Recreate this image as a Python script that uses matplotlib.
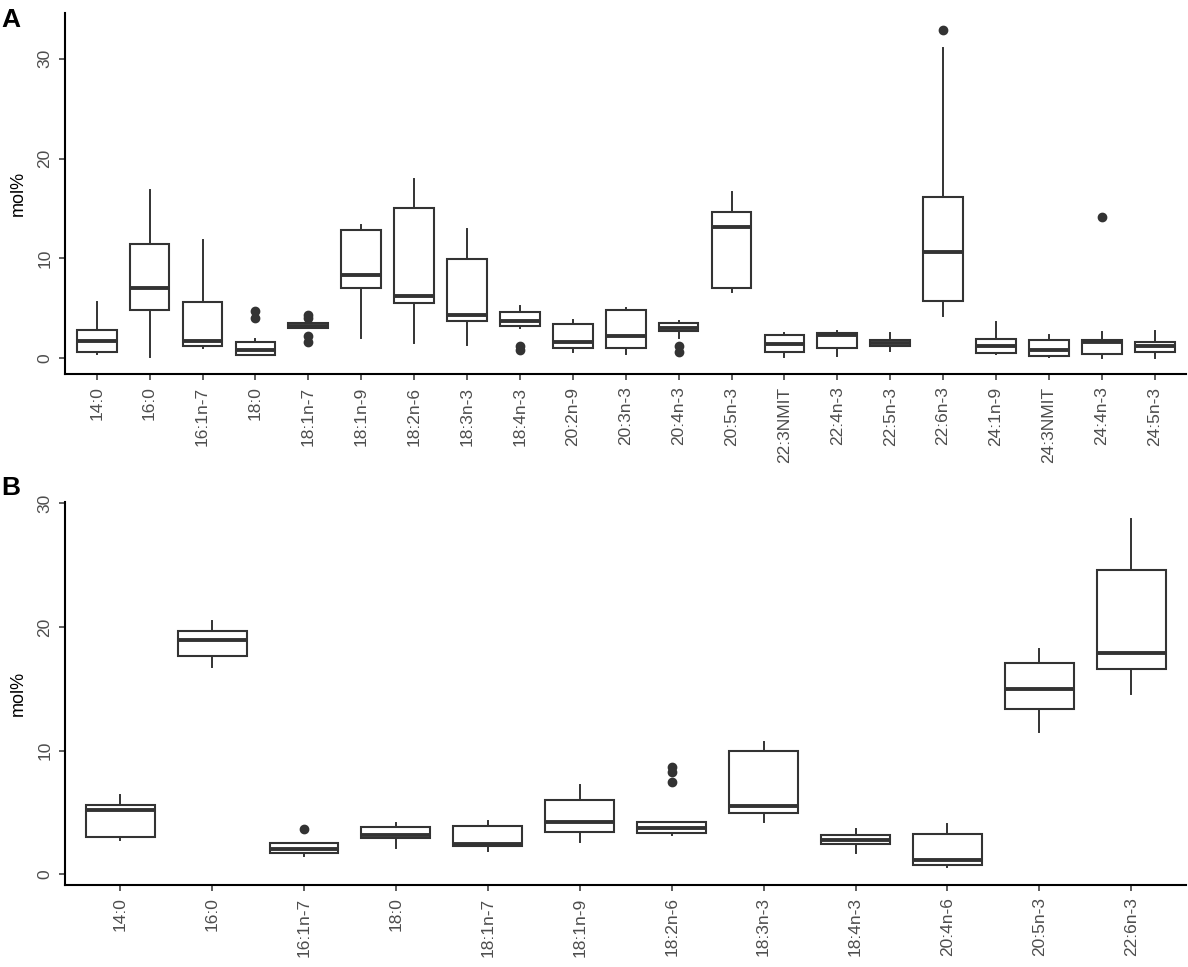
import matplotlib
matplotlib.use("Agg")
import matplotlib.pyplot as plt

plt.rcParams['font.family'] = ['Liberation Sans', 'DejaVu Sans']

# Panel A: fatty acid composition, box statistics
cats_a = ["14:0", "16:0", "16:1n-7", "18:0", "18:1n-7", "18:1n-9", "18:2n-6",
          "18:3n-3", "18:4n-3", "20:2n-9", "20:3n-3", "20:4n-3", "20:5n-3",
          "22:3NMIT", "22:4n-3", "22:5n-3", "22:6n-3", "24:1n-9", "24:3NMIT",
          "24:4n-3", "24:5n-3"]
whislo_a = [0.43, 0.07, 1.0, 0.27, 3.0, 2.0, 1.5, 1.33, 3.0, 0.57, 0.43, 2.0, 6.6,
            0.1, 0.23, 0.73, 4.17, 0.4, 0.07, 0.05, 0.05]
q1_a = [0.57, 4.83, 1.17, 0.33, 3.0, 7.07, 5.57, 3.67, 3.23, 1.0, 1.0, 2.67, 7.07,
        0.57, 1.0, 1.17, 5.77, 0.5, 0.17, 0.4, 0.57]
med_a = [1.67, 7.0, 1.67, 0.77, 3.23, 8.33, 6.27, 4.27, 3.67, 1.6, 2.17, 3.0, 13.17,
         1.4, 2.33, 1.5, 10.6, 1.23, 0.77, 1.6, 1.17]
q3_a = [2.83, 11.4, 5.67, 1.57, 3.5, 12.8, 15.07, 9.9, 4.57, 3.43, 4.83, 3.5, 14.67,
        2.27, 2.5, 1.83, 16.1, 1.93, 1.83, 1.8, 1.57]
whishi_a = [5.67, 16.9, 11.8, 1.9, 3.5, 13.3, 18.0, 12.9, 5.23, 3.83, 5.0, 3.67, 16.67,
            2.5, 2.73, 2.5, 31.1, 3.6, 2.27, 2.6, 2.73]
fliers_a = [[], [], [], [4.67, 4.0], [4.33, 4.0, 2.17, 1.57], [], [], [],
            [1.17, 0.83], [], [], [1.17, 0.6], [], [], [], [], [32.9], [], [],
            [14.1], []]

# Panel B
cats_b = ["14:0", "16:0", "16:1n-7", "18:0", "18:1n-7", "18:1n-9", "18:2n-6",
          "18:3n-3", "18:4n-3", "20:4n-6", "20:5n-3", "22:6n-3"]
whislo_b = [2.77, 16.76, 1.51, 2.15, 1.91, 2.64, 3.17, 4.2, 1.69, 0.56, 11.51, 14.61]
q1_b = [2.99, 17.65, 1.75, 2.96, 2.29, 3.44, 3.36, 4.92, 2.42, 0.75, 13.4, 16.63]
med_b = [5.19, 18.91, 2.02, 3.17, 2.45, 4.25, 3.71, 5.54, 2.77, 1.16, 14.99, 17.89]
q3_b = [5.6, 19.67, 2.5, 3.85, 3.93, 6.0, 4.2, 9.98, 3.17, 3.23, 17.08, 24.64]
whishi_b = [6.4, 20.47, 2.55, 4.17, 4.3, 7.26, 4.25, 10.71, 3.66, 4.06, 18.19, 28.73]
fliers_b = [[], [], [3.63], [], [], [], [8.69, 8.29, 7.43], [], [], [], [], []]

DARK = "#333333"
GREY = "#4D4D4D"


def draw_panel(ax, cats, lo, q1, med, q3, hi, fliers, ylim):
    stats = []
    for i, name in enumerate(cats):
        stats.append({"label": name, "whislo": lo[i], "q1": q1[i], "med": med[i],
                      "q3": q3[i], "whishi": hi[i], "fliers": fliers[i]})
    ax.bxp(stats, positions=range(1, len(cats) + 1), widths=0.75,
           patch_artist=True, showcaps=False,
           boxprops=dict(facecolor="white", edgecolor=DARK, linewidth=1.5),
           whiskerprops=dict(color=DARK, linewidth=1.4),
           medianprops=dict(color=DARK, linewidth=2.8, solid_capstyle="butt"),
           flierprops=dict(marker="o", markerfacecolor=DARK, markeredgecolor=DARK,
                           markersize=6, linestyle="none"))
    ax.set_xlim(0.4, len(cats) + 0.6)
    ax.set_ylim(*ylim)
    ax.set_yticks([0, 10, 20, 30])
    ax.set_yticklabels(["0", "10", "20", "30"], rotation=90, va="center",
                       color=GREY, fontsize=12.5)
    ax.set_xticks(range(1, len(cats) + 1))
    ax.set_xticklabels(cats, rotation=90, color=GREY, fontsize=12.5)
    ax.tick_params(axis="both", length=4, width=1.1, color=DARK, pad=5)
    for side in ("top", "right"):
        ax.spines[side].set_visible(False)
    for side in ("left", "bottom"):
        ax.spines[side].set_linewidth(1.5)
        ax.spines[side].set_color("black")
    ax.set_ylabel("mol%", fontsize=13, color="black", labelpad=8)


fig = plt.figure(figsize=(11.88, 9.67), dpi=100)
ax_a = fig.add_axes([0.0547, 0.6132, 0.944, 0.3734])
ax_b = fig.add_axes([0.0547, 0.0848, 0.944, 0.3961])

draw_panel(ax_a, cats_a, whislo_a, q1_a, med_a, q3_a, whishi_a, fliers_a, (-1.6, 34.6))
draw_panel(ax_b, cats_b, whislo_b, q1_b, med_b, q3_b, whishi_b, fliers_b, (-0.86, 30.1))

fig.text(0.001, 0.979, "A", fontsize=19, fontweight="bold", va="center")
fig.text(0.001, 0.495, "B", fontsize=19, fontweight="bold", va="center")

fig.savefig("out.png", dpi=100)
